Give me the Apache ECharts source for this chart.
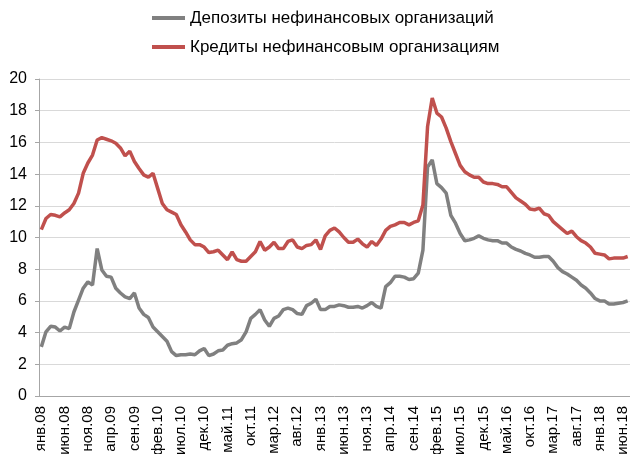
<!DOCTYPE html>
<html>
<head>
<meta charset="utf-8">
<script src="https://cdn.jsdelivr.net/npm/echarts@6/dist/echarts.min.js"></script>
<style>
  html, body { margin: 0; padding: 0; background: #fff; }
  #chart { width: 630px; height: 454px; }
</style>
</head>
<body>
<div id="chart"></div>
<script>
// месяцы янв.08 ... июл.18
const monthNames = ['янв', 'фев', 'мар', 'апр', 'май', 'июн', 'июл', 'авг', 'сен', 'окт', 'ноя', 'дек'];
const years = ['08', '09', '10', '11', '12', '13', '14', '15', '16', '17', '18'];
const lastYearMonths = 7;

const categories = [];
years.forEach((y, yi) => {
    const n = yi === years.length - 1 ? lastYearMonths : 12;
    for (let m = 0; m < n; m++) categories.push(monthNames[m] + '.' + y);
});

const deposits = [
    3.1, 4.05, 4.4, 4.35, 4.1, 4.35, 4.25, 5.3, 6.05, 6.8, 7.2, 7.0,
    9.3, 7.95, 7.55, 7.5, 6.8, 6.5, 6.25, 6.15, 6.5, 5.55, 5.15, 4.95,
    4.35, 4.05, 3.75, 3.45, 2.8, 2.55, 2.6, 2.6, 2.65, 2.6, 2.85, 3.0,
    2.55, 2.65, 2.85, 2.9, 3.2, 3.3, 3.35, 3.55, 4.05, 4.9, 5.15, 5.45,
    4.8, 4.4, 4.9, 5.05, 5.45, 5.55, 5.45, 5.2, 5.15, 5.7, 5.85, 6.1,
    5.45, 5.45, 5.65, 5.65, 5.75, 5.7, 5.6, 5.6, 5.65, 5.55, 5.7, 5.9,
    5.65, 5.55, 6.9, 7.15, 7.55, 7.55, 7.5, 7.35, 7.4, 7.75, 9.2, 14.45,
    14.9, 13.4, 13.15, 12.8, 11.4, 10.9, 10.25, 9.8, 9.85, 9.95, 10.1, 9.95,
    9.85, 9.8, 9.8, 9.65, 9.65, 9.4, 9.25, 9.15, 9.0, 8.9, 8.75, 8.75,
    8.8, 8.8, 8.5, 8.1, 7.85, 7.7, 7.5, 7.3, 7.0, 6.8, 6.5, 6.15,
    6.0, 6.0, 5.8, 5.8, 5.85, 5.9, 6.0
];

const loans = [
    10.5, 11.2, 11.45, 11.4, 11.3, 11.55, 11.75, 12.15, 12.8, 14.05, 14.7, 15.2,
    16.15, 16.3, 16.2, 16.1, 15.95, 15.65, 15.15, 15.45, 14.8, 14.35, 13.95, 13.8,
    14.05, 13.1, 12.15, 11.75, 11.6, 11.45, 10.8, 10.35, 9.85, 9.55, 9.55, 9.4,
    9.05, 9.1, 9.2, 8.9, 8.6, 9.1, 8.6, 8.5, 8.5, 8.8, 9.1, 9.75,
    9.2, 9.4, 9.7, 9.3, 9.3, 9.75, 9.85, 9.4, 9.3, 9.5, 9.55, 9.85,
    9.25, 10.1, 10.45, 10.6, 10.35, 10.0, 9.7, 9.7, 9.9, 9.6, 9.4, 9.75,
    9.5, 9.9, 10.45, 10.7, 10.8, 10.95, 10.95, 10.8, 10.95, 11.05, 12.05, 17.0,
    18.8, 17.85, 17.6, 16.9, 16.05, 15.3, 14.55, 14.15, 13.95, 13.8, 13.8, 13.5,
    13.4, 13.4, 13.35, 13.2, 13.2, 12.85, 12.5, 12.3, 12.1, 11.8, 11.75, 11.85,
    11.5, 11.4, 11.0, 10.75, 10.5, 10.25, 10.4, 10.05, 9.8, 9.65, 9.4, 9.0,
    8.95, 8.9, 8.65, 8.7, 8.7, 8.7, 8.8
];

const seriesNames = ['Депозиты нефинансовых организаций', 'Кредиты нефинансовым организациям'];
const yTicks = { min: 0, max: 20, interval: 2 };

const chart = echarts.init(document.getElementById('chart'));

const fontFamily = '"Liberation Sans", Arial, sans-serif';

const option = {
    animation: false,
    textStyle: { fontFamily: fontFamily },
    legend: {
        orient: 'vertical',
        left: 152,
        top: 8,
        padding: 0,
        itemWidth: 33,
        itemHeight: 4,
        itemGap: 9,
        icon: 'rect',
        textStyle: { fontSize: 17, color: '#000', fontFamily: fontFamily, lineHeight: 20 },
        data: seriesNames
    },
    grid: {
        left: 39,
        right: 0,
        top: 79,
        bottom: 58,
        containLabel: false,
        outerBoundsMode: 'none'
    },
    xAxis: {
        type: 'category',
        boundaryGap: true,
        data: categories,
        axisLine: { lineStyle: { color: '#a6a6a6', width: 1 } },
        axisTick: { interval: 4, length: 4, lineStyle: { color: '#a6a6a6' } },
        axisLabel: {
            interval: 4,
            rotate: 90,
            margin: 10,
            fontSize: 15,
            color: '#000',
            fontFamily: fontFamily
        },
        splitLine: { show: false }
    },
    yAxis: {
        type: 'value',
        min: yTicks.min,
        max: yTicks.max,
        interval: yTicks.interval,
        axisLine: { show: true, lineStyle: { color: '#a6a6a6', width: 1 } },
        axisTick: { show: true, length: 4, lineStyle: { color: '#a6a6a6' } },
        axisLabel: { fontSize: 16, color: '#000', margin: 12, fontFamily: fontFamily },
        splitLine: { lineStyle: { color: '#d9d9d9', width: 1 } }
    },
    series: [
        {
            name: seriesNames[0],
            type: 'line',
            data: deposits,
            symbol: 'none',
            lineStyle: { width: 3.5, color: '#808080' },
            itemStyle: { color: '#808080' }
        },
        {
            name: seriesNames[1],
            type: 'line',
            data: loans,
            symbol: 'none',
            lineStyle: { width: 3.5, color: '#c0504d' },
            itemStyle: { color: '#c0504d' }
        }
    ]
};

chart.setOption(option);
</script>
</body>
</html>
